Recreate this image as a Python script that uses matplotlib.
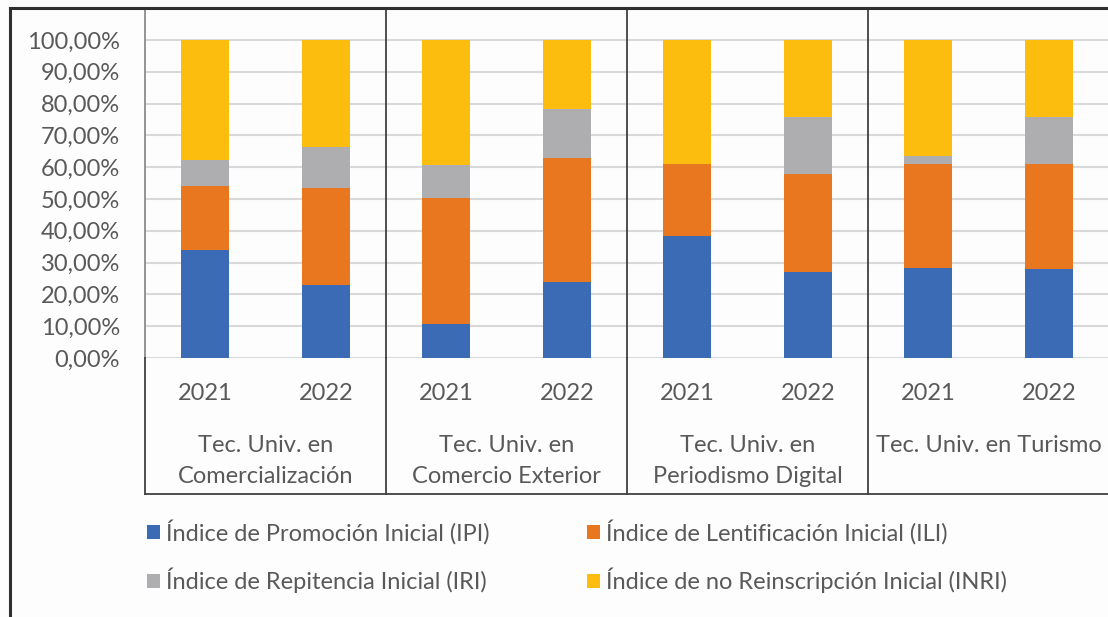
import matplotlib
matplotlib.use("Agg")
import matplotlib.pyplot as plt
import numpy as np
from matplotlib.patches import Patch
from matplotlib.lines import Line2D
from matplotlib.transforms import blended_transform_factory

# ---- data ----
groups = ["Tec. Univ. en\nComercialización", "Tec. Univ. en\nComercio Exterior",
          "Tec. Univ. en\nPeriodismo Digital", "Tec. Univ. en Turismo"]
years = ["2021", "2022"]
ipi = [34.0, 22.8, 10.7, 23.9, 38.4, 27.2, 28.3, 28.0]
ili = [20.1, 30.8, 39.6, 38.9, 22.6, 30.8, 32.6, 32.9]
iri = [8.2, 12.9, 10.4, 15.4, 0.0, 17.7, 2.7, 15.0]
inri = [37.7, 33.5, 39.3, 21.8, 39.0, 24.3, 36.4, 24.1]
series_names = ["Índice de Promoción Inicial (IPI)", "Índice de Lentificación Inicial (ILI)",
                "Índice de Repitencia Inicial (IRI)", "Índice de no Reinscripción Inicial (INRI)"]
colors = ["#3B6BB5", "#E9771F", "#AEAEB0", "#FDBD0F"]
yticks = [0, 10, 20, 30, 40, 50, 60, 70, 80, 90, 100]
ytick_labels = ["0,00%", "10,00%", "20,00%", "30,00%", "40,00%", "50,00%",
                "60,00%", "70,00%", "80,00%", "90,00%", "100,00%"]

plt.rcParams["font.family"] = ["Lato", "DejaVu Sans"]
text_color = "#595959"
fs = 17

W, H = 1108, 617
fig = plt.figure(figsize=(W / 100, H / 100), dpi=100)
fig.patch.set_facecolor("#FDFDFD")

left_px, right_px = 145, 1109
top_px, zero_px = 8, 358
ax = fig.add_axes([left_px / W, (H - zero_px) / H, (right_px - left_px) / W, (zero_px - top_px) / H])
ax.set_facecolor("none")

n = len(ipi)
x = np.arange(n)
vals = [ipi, ili, iri, inri]
bottom = np.zeros(n)
for v, c, name in zip(vals, colors, series_names):
    ax.bar(x, v, bottom=bottom, width=0.4, color=c, label=name, zorder=3)
    bottom = bottom + np.array(v)

ax.set_xlim(-0.5, n - 0.5)
ax.set_ylim(0, 100 + (100 / (358 - 40)) * (40 - 8))
ax.set_yticks(yticks)
ax.set_yticklabels(ytick_labels, color=text_color, fontsize=fs)
ax.tick_params(axis="y", length=0, pad=18)
ax.set_xticks([])
for s in ax.spines.values():
    s.set_visible(False)
ax.grid(axis="y", color="#D9D9D9", linewidth=1.5, zorder=0)
ax.set_axisbelow(True)

# year labels and group labels
tr_fig = blended_transform_factory(ax.transData, fig.transFigure)
for i in range(n):
    ax.text(x[i], (H - 393) / H, years[i % 2], transform=tr_fig, ha="center", va="center",
            color=text_color, fontsize=fs)
for g, name in enumerate(groups):
    cx = 2 * g + 0.5
    ax.text(cx, (H - 435) / H, name, transform=tr_fig, ha="center", va="top",
            color=text_color, fontsize=fs, linespacing=1.6)

# group separators
for g in range(len(groups)):
    xs = 2 * g - 0.5
    col = "#8C8C8C" if g == 0 else "#404040"
    fig.add_artist(Line2D([xs, xs], [(H - top_px) / H, (H - zero_px) / H], transform=tr_fig,
                          color=col, linewidth=1.3))
    fig.add_artist(Line2D([xs, xs], [(H - zero_px) / H, (H - 494) / H], transform=tr_fig,
                          color="#404040", linewidth=1.3))
fig.add_artist(Line2D([-0.5, n - 0.5], [(H - 494) / H, (H - 494) / H], transform=tr_fig,
                      color="#404040", linewidth=1.3))

# outer frame (top and left)
fig.add_artist(Line2D([10 / W, 10 / W], [0, (H - 8) / H], transform=fig.transFigure,
                      color="#303030", linewidth=2.2))
fig.add_artist(Line2D([10 / W, 1], [(H - 8) / H, (H - 8) / H], transform=fig.transFigure,
                      color="#303030", linewidth=2.2))

# legend
order = [0, 2, 1, 3]
handles = [Patch(facecolor=colors[i], edgecolor="none") for i in order]
labels = [series_names[i] for i in order]
fig.legend(handles, labels, ncol=2, loc="upper left", bbox_to_anchor=(138 / W, (H - 510) / H),
           frameon=False, fontsize=fs, labelcolor=text_color, handlelength=0.55,
           handleheight=0.55, handletextpad=0.25, columnspacing=4.1, labelspacing=0.98,
           borderaxespad=0)

fig.savefig("out.png", dpi=100, facecolor=fig.get_facecolor())
